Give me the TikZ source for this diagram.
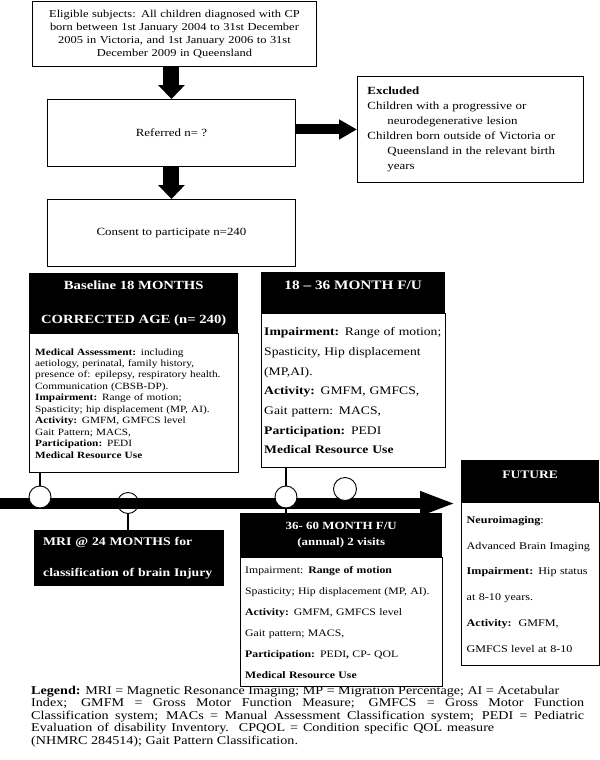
\documentclass[tikz,border=0pt]{standalone}
\usepackage{fontspec}
\setmainfont{Liberation Serif}[FakeStretch=1.18]
\usetikzlibrary{positioning,arrows.meta}

\begin{document}
\begin{tikzpicture}[x=1bp, y=-1bp,
    flowbox/.style={draw, line width=0.9bp, anchor=north west, align=center, inner xsep=2bp, inner ysep=0pt},
    fatarrow/.style={line width=16bp, -{Triangle[length=14bp,width=26bp]}},
    sidearrow/.style={line width=10bp, -{Triangle[length=18bp,width=19bp]}},
    headbox/.style={fill=black, text=white, anchor=north west, align=center, inner ysep=0pt},
    bodybox/.style={draw, line width=0.9bp, fill=white, align=left, inner ysep=0pt},
    stampdot/.style={circle, draw, line width=0.9bp, minimum size=22bp, inner sep=0pt},
    stem/.style={line width=1.6bp}]
    \useasboundingbox (0,0) rectangle (600,760);

    % Recruitment
    \node[flowbox, minimum width=284bp, minimum height=65bp, text width=280bp,
          font=\fontsize{10.6}{13}\selectfont] (elig) at (32,1)
        {Eligible subjects: All children diagnosed with CP\\
         born between 1st January 2004 to 31st December\\
         2005 in Victoria, and 1st January 2006 to 31st\\
         December 2009 in Queensland};
    \node[flowbox, minimum width=248bp, minimum height=67bp,
          font=\fontsize{11}{13}\selectfont] (ref) at (47,99) {Referred n= ?};
    \node[flowbox, minimum width=226bp, minimum height=106bp, text width=206bp,
          inner xsep=10bp, align=left, font=\fontsize{11}{15}\selectfont] (excl) at (357,76)
        {\textbf{Excluded}\\
         Children with a progressive or\\
         \hspace*{20bp}neurodegenerative lesion\\
         Children born outside of Victoria or\\
         \hspace*{20bp}Queensland in the relevant birth\\
         \hspace*{20bp}years};
    \node[flowbox, minimum width=248bp, minimum height=67bp,
          font=\fontsize{11}{13}\selectfont] (cons) at (47,199) {Consent to participate n=240};

    \draw[fatarrow] (elig.south -| ref.north) -- (ref.north);
    \draw[sidearrow] (ref.east |- excl.west) -- (excl.west);
    \draw[fatarrow] (ref.south) -- (cons.north);

    % Baseline
    \node[headbox, minimum width=209bp, minimum height=60bp,
          font=\bfseries\fontsize{12.5}{34}\selectfont] (basehead) at (29,273)
        {Baseline 18 MONTHS\\ CORRECTED AGE (n= 240)};
    \node[bodybox, below=0pt of basehead, minimum width=209bp, minimum height=139bp,
          text width=197bp, inner xsep=6bp, font=\fontsize{9.6}{11.5}\selectfont] (basebody)
        {\textbf{Medical Assessment:} including\\
         aetiology, perinatal, family history,\\
         presence of: epilepsy, respiratory health.\\
         Communication (CBSB-DP).\\
         \textbf{Impairment:} Range of motion;\\
         Spasticity; hip displacement (MP, AI).\\
         \textbf{Activity:} GMFM, GMFCS level\\
         Gait Pattern; MACS,\\
         \textbf{Participation:} PEDI\\
         \textbf{Medical Resource Use}};

    % 18-36 months
    \node[headbox, minimum width=184bp, minimum height=41bp, text depth=15bp,
          font=\bfseries\fontsize{13}{16}\selectfont] (fuahead) at (261,272)
        {18 -- 36 MONTH F/U};
    \node[bodybox, below=0pt of fuahead, minimum width=184bp, minimum height=154bp,
          text width=178bp, inner xsep=3bp, font=\fontsize{11.6}{19.7}\selectfont] (fuabody)
        {\textbf{Impairment:} Range of motion;\\
         Spasticity, Hip displacement\\
         (MP,AI).\\
         \textbf{Activity:} GMFM, GMFCS,\\
         Gait pattern: MACS,\\
         \textbf{Participation:} PEDI\\
         \textbf{Medical Resource Use}};

    % MRI
    \node[headbox, align=left, minimum width=190bp, minimum height=56bp, text width=172bp,
          inner xsep=9bp, font=\bfseries\fontsize{11.7}{32}\selectfont] (mri) at (34,530)
        {MRI @ 24 MONTHS for\\ classification of brain Injury};

    % 36-60 months
    \node[headbox, minimum width=202bp, minimum height=44bp,
          font=\bfseries\fontsize{11}{16}\selectfont] (fubhead) at (240,513)
        {36- 60 MONTH F/U\\ (annual) 2 visits};
    \node[bodybox, below=0pt of fubhead, minimum width=202bp, minimum height=129bp,
          text width=192bp, inner xsep=5bp, font=\fontsize{10}{21}\selectfont] (fubbody)
        {Impairment: \textbf{Range of motion}\\
         Spasticity; Hip displacement (MP, AI).\\
         \textbf{Activity:} GMFM, GMFCS level\\
         Gait pattern; MACS,\\
         \textbf{Participation:} PEDI\textbf{,} CP- QOL\\
         \textbf{Medical Resource Use}};

    % Future
    \node[headbox, minimum width=138bp, minimum height=42bp, text depth=13bp,
          font=\bfseries\fontsize{11.5}{14}\selectfont] (futhead) at (461,460) {FUTURE};
    \node[bodybox, below=0pt of futhead, minimum width=138bp, minimum height=163bp,
          text width=127bp, inner xsep=5.5bp, font=\fontsize{10.3}{26}\selectfont] (futbody)
        {\textbf{Neuroimaging}:\\
         Advanced Brain Imaging\\
         \textbf{Impairment:} Hip status\\
         at 8-10 years.\\
         \textbf{Activity:}\ \ GMFM,\\
         GMFCS level at 8-10};

    % Timeline
    \node[stampdot, minimum size=21bp] (dot2) at (128,503) {};
    \coordinate (tstart) at (0,503.5);
    \coordinate (tend) at (456,503.5);
    \draw[line width=11bp, -{Triangle[length=36bp,width=22bp]}] (tstart) -- (tend);
    \node[stampdot, fill=white] (dot1) at (40,497) {};
    \node[stampdot, fill=white] (dot3) at (286,497) {};
    \node[stampdot, fill=white, minimum size=23bp] (dot4) at (345,489) {};
    \draw[stem] (dot1.north) -- (dot1.north |- basebody.south);
    \draw[stem] (dot2.south) -- (dot2.south |- mri.north);
    \draw[stem] (dot3.north) -- (dot3.north |- fuabody.south);
    \draw[stem] (dot3.south) -- (dot3.south |- fubhead.north);

    % Legend
    \node[anchor=north west, text width=553bp, align=justify, inner sep=0pt,
          font=\fontsize{12}{12.5}\selectfont] (legend) at (31,686)
        {\textbf{Legend:} MRI = Magnetic Resonance Imaging; MP = Migration Percentage; AI = Acetabular\\
         Index; GMFM = Gross Motor Function Measure; GMFCS = Gross Motor Function\linebreak
         Classification system; MACs = Manual Assessment Classification system; PEDI = Pediatric\linebreak
         \makebox[463bp][s]{Evaluation of disability Inventory.\ \ CPQOL = Condition specific QOL measure}\\
         (NHMRC 284514); Gait Pattern Classification.};
\end{tikzpicture}
\end{document}
